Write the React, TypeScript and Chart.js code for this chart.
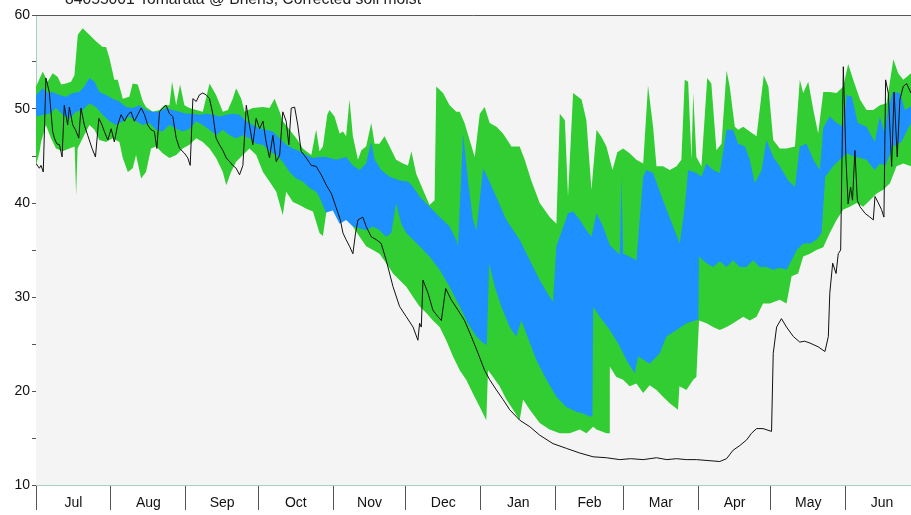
import { useEffect, useRef } from 'react';
import { Chart, registerables } from 'chart.js';

Chart.register(...registerables);

const titleText = '84055001 Tomarata @ Briens, Corrected soil moist';
const monthNames = ['Jul', 'Aug', 'Sep', 'Oct', 'Nov', 'Dec', 'Jan', 'Feb', 'Mar', 'Apr', 'May', 'Jun'];
const monthStartDays = [0, 31, 62, 92, 123, 153, 184, 215, 243, 274, 304, 335, 365];
const yTickValues = [10, 15, 20, 25, 30, 35, 40, 45, 50, 55, 60];

// Upper edge of the outer (green) band
const greenUpperDays = [0, 2.8, 4.8, 6.9, 9.0, 10.4, 12.4, 14.5, 15.9, 17.3, 19.3, 22.1, 24.8, 27.6, 29.0, 30.4, 32.4, 33.8, 35.9, 38.6, 40.0, 42.1, 44.2, 45.5, 48.3, 51.1, 53.1, 55.2, 56.3, 58.0, 59.6, 61.4, 63.5, 66.3, 69.0, 71.8, 74.5, 77.3, 79.4, 81.4, 82.8, 84.9, 86.3, 89.7, 93.9, 96.6, 98.7, 100.8, 102.1, 104.9, 107.7, 110.4, 111.8, 113.9, 115.9, 117.3, 118.7, 120.5, 121.4, 123.5, 125.6, 127.0, 128.3, 129.7, 131.1, 133.2, 134.6, 136.6, 138.7, 140.1, 142.1, 144.2, 146.3, 149.0, 151.8, 153.9, 155.3, 157.3, 160.1, 162.8, 164.9, 165.6, 168.4, 171.1, 173.9, 175.3, 177.3, 179.4, 181.5, 183.6, 185.6, 187.7, 190.5, 193.2, 196.7, 200.1, 202.2, 204.9, 208.4, 212.5, 215.3, 216.7, 218.8, 220.1, 222.2, 225.7, 227.7, 229.8, 231.9, 234.0, 236.0, 238.5, 240.5, 242.9, 245.6, 248.4, 251.2, 253.2, 255.3, 256.7, 259.4, 262.2, 265.0, 267.0, 268.4, 269.8, 271.2, 271.9, 273.2, 275.3, 277.7, 279.4, 281.5, 283.6, 285.7, 287.0, 289.1, 290.5, 292.6, 295.3, 298.1, 301.1, 303.0, 305.0, 307.7, 310.5, 314.0, 316.0, 317.4, 319.5, 321.6, 323.6, 325.7, 328.4, 331.2, 334.0, 336.0, 338.1, 340.9, 343.6, 346.4, 349.1, 351.9, 354.7, 356.7, 358.8, 362];
const greenUpperVals = [52.4, 54.0, 52.9, 53.8, 53.4, 52.6, 52.7, 52.9, 53.6, 57.9, 58.6, 57.9, 57.2, 56.6, 56.6, 55.4, 53.1, 53.1, 51.1, 51.3, 52.7, 52.6, 50.8, 50.2, 49.7, 49.9, 50.4, 50.4, 52.9, 50.4, 52.6, 50.4, 50.1, 49.9, 49.7, 52.7, 51.5, 49.7, 49.9, 51.1, 52.2, 51.1, 49.7, 50.1, 50.2, 50.1, 51.1, 49.7, 48.7, 47.8, 46.9, 45.8, 45.5, 45.1, 47.8, 45.5, 46.0, 49.4, 49.9, 49.2, 47.4, 47.6, 47.1, 51.0, 47.1, 44.6, 45.6, 46.0, 48.5, 46.3, 46.3, 47.1, 46.0, 44.6, 44.2, 44.0, 45.5, 43.1, 41.4, 39.8, 40.3, 52.4, 51.7, 50.4, 49.7, 49.7, 48.5, 46.7, 44.9, 49.5, 50.2, 48.5, 48.1, 47.4, 46.0, 46.0, 44.6, 42.4, 40.0, 38.5, 37.8, 49.5, 48.8, 40.7, 51.7, 51.0, 48.8, 41.4, 47.8, 47.0, 46.0, 43.5, 45.4, 45.8, 45.3, 44.6, 44.2, 52.5, 48.1, 43.9, 43.9, 43.5, 43.9, 44.6, 53.1, 52.9, 44.6, 51.7, 44.9, 43.9, 53.3, 52.7, 45.6, 46.3, 54.1, 52.4, 48.1, 47.8, 48.1, 47.6, 47.1, 53.6, 52.4, 46.7, 45.8, 45.8, 46.0, 53.1, 51.7, 52.9, 49.9, 47.4, 51.8, 51.8, 51.7, 52.4, 54.8, 53.1, 51.0, 49.9, 49.9, 50.4, 50.6, 55.3, 53.8, 53.1, 53.8];

// Upper edge of the inner (blue) band
const blueUpperDays = [0, 2.8, 4.8, 6.9, 9.7, 12.4, 15.2, 17.9, 20.0, 22.1, 24.2, 26.2, 29.0, 31.7, 34.5, 37.3, 40.0, 42.8, 45.5, 48.3, 51.1, 53.8, 56.6, 59.4, 62.1, 64.9, 67.6, 70.4, 73.2, 75.9, 78.7, 81.4, 84.2, 87.0, 89.7, 92.5, 95.2, 98.0, 100.8, 103.5, 106.3, 109.0, 111.8, 114.6, 117.3, 120.1, 124.2, 128.3, 131.1, 133.9, 136.6, 138.7, 140.1, 142.8, 146.3, 150.4, 153.9, 156.0, 158.7, 162.8, 167.0, 171.1, 173.9, 174.6, 176.7, 178.7, 180.8, 182.2, 185.0, 189.1, 194.6, 200.1, 204.3, 208.4, 212.5, 213.9, 215.3, 216.7, 220.1, 222.2, 225.0, 227.7, 229.8, 231.9, 234.6, 237.4, 241.5, 242.2, 242.9, 245.6, 248.4, 251.2, 252.5, 255.3, 259.4, 263.6, 266.3, 268.4, 269.8, 273.2, 275.3, 277.4, 280.1, 282.9, 285.7, 288.4, 290.5, 293.3, 295.3, 297.4, 300.2, 302.2, 305.0, 307.7, 311.2, 314.0, 316.0, 318.8, 321.6, 324.3, 325.7, 328.4, 331.2, 334.0, 335.4, 337.5, 340.0, 343.6, 347.0, 349.1, 351.0, 352.6, 354.5, 357.4, 359.5, 362];
const blueUpperVals = [51.5, 52.2, 51.7, 51.8, 51.5, 51.3, 51.7, 51.8, 52.4, 53.3, 52.9, 51.8, 51.5, 51.1, 50.8, 50.2, 50.1, 50.4, 49.9, 49.7, 49.7, 50.1, 49.9, 49.7, 49.5, 49.5, 49.4, 49.5, 49.4, 49.2, 49.4, 49.5, 49.4, 48.7, 48.3, 47.9, 47.8, 47.6, 46.9, 46.2, 45.8, 45.5, 45.1, 44.8, 44.9, 44.9, 44.6, 44.9, 44.0, 43.5, 44.2, 46.5, 44.6, 43.5, 42.8, 42.4, 42.3, 41.7, 40.7, 39.6, 38.5, 37.5, 36.1, 35.4, 47.4, 42.4, 38.2, 37.1, 43.7, 41.4, 38.2, 36.1, 33.9, 31.8, 30.0, 29.5, 35.4, 36.4, 38.9, 39.1, 38.2, 37.1, 36.4, 38.9, 37.5, 35.5, 34.5, 42.8, 34.6, 34.3, 33.9, 42.8, 43.5, 43.2, 40.3, 37.5, 35.7, 39.6, 43.5, 43.2, 42.8, 44.2, 43.5, 43.2, 47.8, 47.8, 46.3, 46.0, 44.6, 42.1, 43.5, 46.7, 44.9, 43.9, 42.4, 41.7, 46.0, 46.3, 44.6, 43.5, 48.0, 49.2, 48.5, 48.1, 51.5, 51.3, 48.5, 48.1, 46.5, 49.2, 47.5, 50.2, 51.8, 51.7, 49.9, 50.3];

// Lower edge of the inner (blue) band
const blueLowerDays = [0, 2.8, 5.5, 8.3, 11.0, 13.8, 16.6, 19.3, 22.1, 24.8, 27.6, 30.4, 33.1, 35.9, 38.6, 41.4, 44.2, 46.9, 49.7, 52.4, 55.2, 58.0, 60.7, 63.5, 66.3, 69.0, 71.8, 74.5, 77.3, 80.1, 82.8, 85.6, 88.3, 91.1, 93.9, 96.6, 99.4, 102.1, 104.9, 107.7, 110.4, 113.2, 115.9, 117.3, 120.1, 122.8, 125.6, 128.3, 131.1, 133.9, 136.6, 139.4, 142.1, 144.9, 147.0, 149.0, 151.1, 153.2, 156.0, 158.7, 162.8, 167.0, 171.1, 175.3, 178.7, 182.2, 185.0, 186.5, 187.5, 189.8, 192.5, 196.0, 198.7, 200.8, 202.9, 207.0, 211.2, 215.3, 219.4, 223.6, 226.3, 229.1, 230.2, 230.5, 233.2, 237.4, 241.0, 244.5, 247.7, 249.1, 253.9, 258.0, 260.8, 265.0, 269.1, 274.0, 274.3, 277.4, 280.1, 282.9, 285.7, 288.4, 291.1, 293.9, 296.7, 299.4, 302.2, 305.0, 307.7, 310.5, 312.6, 314.7, 317.4, 320.2, 322.9, 325.0, 326.5, 330.0, 335.4, 338.0, 343.6, 347.0, 349.1, 351.5, 354.5, 358.0, 362];
const blueLowerVals = [49.2, 49.4, 49.5, 50.1, 49.4, 49.0, 49.7, 49.9, 50.6, 50.2, 49.4, 48.7, 48.3, 48.7, 49.2, 48.7, 48.3, 48.5, 47.8, 47.6, 48.3, 47.9, 47.6, 47.9, 48.7, 48.3, 47.8, 47.2, 47.8, 47.2, 46.9, 47.2, 46.9, 46.3, 46.2, 45.5, 45.1, 44.4, 43.3, 42.6, 42.3, 41.6, 41.2, 40.6, 38.9, 37.8, 37.5, 37.8, 37.5, 37.3, 37.1, 37.5, 37.1, 36.4, 36.8, 40.0, 37.8, 36.8, 36.1, 35.4, 34.3, 32.9, 31.1, 29.0, 27.2, 25.8, 25.1, 24.9, 33.6, 31.1, 29.0, 26.8, 25.8, 27.5, 26.1, 23.3, 21.2, 19.4, 18.3, 17.8, 17.6, 17.3, 17.3, 29.0, 27.9, 26.5, 25.0, 23.2, 21.9, 23.7, 22.9, 24.0, 25.8, 26.5, 27.2, 27.6, 34.3, 33.6, 33.2, 33.8, 33.2, 33.9, 33.2, 33.2, 33.9, 33.2, 33.2, 32.9, 33.1, 32.9, 33.9, 35.0, 35.7, 35.7, 36.1, 36.8, 42.8, 44.0, 45.3, 45.0, 44.6, 43.5, 44.2, 44.0, 46.0, 46.5, 48.5];

// Lower edge of the outer (green) band
const greenLowerDays = [0, 1.5, 2.1, 4.1, 6.2, 8.3, 11.0, 13.8, 16.0, 16.6, 17.2, 19.3, 22.1, 24.2, 26.2, 29.0, 31.7, 34.5, 35.9, 38.0, 40.0, 41.4, 43.5, 45.5, 47.6, 49.7, 52.4, 55.2, 58.0, 60.7, 63.5, 66.3, 69.0, 71.8, 74.5, 77.3, 78.7, 80.7, 82.8, 85.6, 88.3, 91.1, 93.9, 96.6, 99.4, 102.1, 103.5, 106.3, 109.0, 111.8, 114.6, 117.3, 118.7, 120.1, 122.8, 125.6, 128.3, 131.1, 133.9, 136.6, 139.4, 142.1, 144.9, 147.7, 150.4, 153.2, 156.0, 158.7, 161.5, 164.2, 167.0, 169.7, 172.5, 175.3, 178.0, 180.8, 183.6, 186.3, 187.0, 189.1, 191.8, 194.6, 197.4, 200.1, 201.5, 204.3, 208.4, 212.5, 216.7, 220.8, 225.0, 227.7, 230.5, 231.9, 236.0, 237.2, 237.4, 240.1, 242.9, 245.6, 248.4, 251.2, 253.9, 256.7, 259.4, 262.2, 265.6, 266.2, 269.1, 271.9, 273.2, 274.3, 277.4, 280.1, 282.9, 285.7, 288.4, 292.6, 295.3, 298.1, 300.8, 303.6, 307.7, 310.5, 312.6, 315.3, 317.4, 320.2, 322.9, 325.7, 328.4, 331.2, 334.0, 336.7, 339.5, 342.2, 345.0, 347.8, 350.5, 353.3, 356.0, 358.8, 362];
const greenLowerVals = [44.0, 45.5, 46.5, 48.3, 46.9, 45.8, 45.5, 45.8, 46.0, 40.8, 45.8, 46.9, 48.3, 47.8, 46.7, 46.5, 46.9, 46.5, 44.8, 43.3, 43.7, 45.1, 42.6, 43.3, 45.8, 46.0, 45.3, 44.8, 45.1, 45.8, 46.2, 46.9, 46.5, 45.8, 44.8, 43.3, 41.9, 43.3, 44.4, 45.1, 45.8, 45.1, 43.3, 42.3, 41.2, 38.7, 41.2, 40.1, 39.8, 39.4, 39.1, 36.8, 36.5, 39.0, 39.2, 37.8, 38.2, 37.5, 36.4, 35.4, 35.0, 34.6, 33.6, 32.5, 31.8, 31.1, 30.0, 29.0, 28.3, 27.5, 26.8, 25.4, 23.7, 22.2, 21.2, 19.7, 18.3, 16.9, 22.2, 21.5, 20.5, 19.1, 18.0, 16.9, 19.1, 18.0, 16.6, 15.9, 15.5, 15.5, 15.9, 15.5, 16.2, 15.9, 15.5, 15.5, 22.6, 21.5, 21.2, 20.5, 20.8, 19.8, 20.6, 20.1, 19.4, 18.7, 18.0, 20.5, 20.1, 21.2, 21.5, 27.5, 27.2, 26.8, 26.5, 26.8, 27.2, 27.9, 27.5, 27.9, 29.3, 29.3, 29.7, 29.3, 32.2, 32.5, 34.3, 34.6, 35.0, 35.3, 36.8, 38.2, 39.3, 39.6, 40.0, 39.6, 40.3, 41.0, 41.4, 42.1, 43.9, 44.2, 43.9];

// Observed (black) series
const observedDays = [0, 1.4, 2.1, 3.0, 4.1, 5.5, 6.9, 7.6, 8.6, 9.7, 10.8, 11.7, 13.1, 13.8, 15.2, 16.3, 17.7, 18.6, 20.0, 21.4, 23.2, 24.6, 26.0, 27.3, 28.3, 29.7, 31.1, 32.4, 33.8, 35.2, 36.6, 38.0, 39.3, 40.7, 42.1, 43.5, 44.9, 46.2, 47.6, 49.0, 50.0, 51.1, 52.4, 53.8, 55.2, 56.6, 58.0, 59.4, 61.4, 62.8, 63.8, 64.9, 66.3, 67.6, 69.0, 70.4, 71.8, 73.2, 74.5, 75.9, 77.3, 78.7, 80.1, 81.4, 82.8, 84.2, 85.6, 87.0, 88.3, 89.7, 91.1, 92.5, 93.9, 95.2, 96.6, 98.0, 99.4, 100.8, 102.1, 103.5, 104.6, 105.6, 107.0, 108.3, 109.7, 111.8, 113.9, 115.9, 118.0, 120.1, 122.2, 124.2, 125.9, 127.0, 128.3, 129.7, 131.1, 132.2, 133.2, 135.2, 136.6, 138.7, 140.8, 142.8, 144.9, 147.7, 150.4, 153.2, 156.0, 158.0, 158.7, 159.4, 160.1, 162.2, 164.2, 166.3, 167.7, 169.5, 171.8, 174.6, 177.3, 180.1, 182.9, 185.6, 187.7, 190.5, 193.2, 196.0, 200.1, 204.3, 208.4, 213.9, 219.4, 225.0, 230.5, 236.0, 241.5, 246.0, 251.2, 256.7, 261.0, 265.0, 269.0, 273.2, 278.0, 282.9, 285.7, 288.4, 291.2, 294.0, 296.0, 298.1, 300.8, 304.3, 305.0, 306.4, 308.4, 310.5, 313.3, 316.0, 318.0, 320.2, 323.6, 326.4, 327.8, 328.4, 329.6, 331.0, 331.9, 332.9, 334.0, 335.1, 336.0, 337.0, 337.8, 338.8, 339.8, 340.9, 343.0, 345.0, 346.4, 347.1, 348.5, 349.8, 350.8, 351.5, 352.6, 354.0, 355.0, 356.3, 357.4, 358.8, 360.2, 362];
const observedVals = [44.2, 43.7, 44.0, 43.3, 53.3, 51.8, 47.6, 46.9, 46.3, 46.2, 44.9, 50.4, 48.3, 50.2, 48.3, 47.8, 46.9, 50.1, 48.3, 47.2, 45.8, 44.9, 49.0, 48.3, 47.6, 46.7, 47.9, 46.5, 48.3, 49.4, 48.7, 49.4, 49.7, 48.7, 49.4, 50.1, 49.4, 48.3, 47.8, 47.6, 45.8, 49.7, 50.1, 50.4, 49.5, 49.2, 46.9, 45.8, 45.3, 44.8, 44.0, 51.1, 50.8, 51.5, 51.7, 51.5, 51.1, 49.4, 46.9, 46.2, 45.6, 44.8, 44.4, 44.0, 43.7, 43.0, 44.0, 50.4, 48.3, 46.2, 49.0, 47.9, 48.7, 46.5, 44.8, 47.2, 44.4, 45.1, 49.7, 48.7, 46.2, 50.1, 50.2, 48.3, 45.5, 44.8, 44.0, 43.9, 43.0, 41.9, 41.0, 39.5, 38.2, 36.8, 36.1, 35.4, 34.6, 36.8, 38.2, 38.5, 37.5, 36.4, 36.1, 35.7, 33.9, 31.1, 29.0, 27.9, 26.8, 25.4, 27.2, 26.8, 31.8, 30.4, 28.6, 27.9, 27.5, 30.9, 29.7, 28.6, 27.5, 25.8, 24.0, 22.2, 21.2, 20.1, 19.1, 18.0, 16.9, 16.2, 15.3, 14.4, 13.9, 13.4, 13.0, 12.9, 12.7, 12.8, 12.7, 12.9, 12.7, 12.8, 12.7, 12.7, 12.6, 12.5, 12.8, 13.7, 14.2, 14.8, 15.5, 16.0, 16.0, 15.7, 24.0, 26.8, 27.7, 26.8, 25.8, 25.2, 25.3, 25.1, 24.7, 24.2, 25.8, 30.4, 33.6, 32.5, 34.6, 35.0, 54.5, 44.6, 39.9, 41.7, 40.3, 45.6, 40.3, 39.6, 38.9, 38.5, 38.2, 40.7, 40.0, 39.3, 38.5, 53.1, 51.7, 43.9, 51.8, 44.9, 51.0, 52.4, 52.7, 51.7];

const GREEN = '#32cd32';
const BLUE = '#1e90ff';
const PLOT_BG = '#f4f4f4';
const AXIS_TEAL = '#a6cfc6';
const FONT = '"Liberation Sans", Arial, sans-serif';

function toPoints(days: number[], vals: number[]) {
  return days.map((d, i) => ({ x: d, y: vals[i] }));
}

const decorPlugin = {
  id: 'decor',
  beforeDraw(chart: any) {
    const { ctx, chartArea: a } = chart;
    ctx.save();
    ctx.fillStyle = PLOT_BG;
    ctx.fillRect(a.left, a.top, a.right - a.left, a.bottom - a.top);
    ctx.restore();
  },
  afterDraw(chart: any) {
    const { ctx, chartArea: a } = chart;
    const xs = chart.scales.x;
    ctx.save();
    ctx.strokeStyle = '#555';
    ctx.lineWidth = 1;
    ctx.beginPath();
    ctx.moveTo(a.left, a.top + 0.5);
    ctx.lineTo(a.right, a.top + 0.5);
    ctx.stroke();

    ctx.fillStyle = '#111';
    ctx.font = `14px ${FONT}`;
    ctx.textAlign = 'center';
    ctx.textBaseline = 'middle';
    monthNames.forEach((name, i) => {
      const mid = (monthStartDays[i] + monthStartDays[i + 1]) / 2;
      ctx.fillText(name, xs.getPixelForValue(mid), a.bottom + 18);
    });

    ctx.fillStyle = '#222';
    ctx.font = `15.7px ${FONT}`;
    ctx.textAlign = 'left';
    ctx.textBaseline = 'alphabetic';
    ctx.fillText(titleText, 65, 4);
    ctx.restore();
  },
};

export default function App() {
  const ref = useRef<HTMLCanvasElement>(null);
  useEffect(() => {
    if (!ref.current) return;
    const band = (data: any, color: string, label: string) => ({
      label,
      data,
      borderColor: 'rgba(0,0,0,0)',
      borderWidth: 0,
      backgroundColor: color,
      pointRadius: 0,
      fill: 'start',
      tension: 0,
    });
    const chart = new Chart(ref.current, {
      type: 'line',
      data: {
        datasets: [
          {
            label: 'Observed',
            data: toPoints(observedDays, observedVals),
            borderColor: '#111',
            borderWidth: 1,
            pointRadius: 0,
            fill: false,
            tension: 0,
          },
          band(toPoints(greenLowerDays, greenLowerVals), PLOT_BG, 'Outer lower'),
          band(toPoints(blueLowerDays, blueLowerVals), GREEN, 'Inner lower'),
          band(toPoints(blueUpperDays, blueUpperVals), BLUE, 'Inner upper'),
          band(toPoints(greenUpperDays, greenUpperVals), GREEN, 'Outer upper'),
        ] as any,
      },
      options: {
        animation: false,
        responsive: false,
        maintainAspectRatio: false,
        layout: { padding: { top: 15, left: 0, right: 0, bottom: 0 } },
        plugins: {
          legend: { display: false },
          tooltip: { enabled: false },
          title: { display: false },
        },
        scales: {
          x: {
            type: 'linear',
            min: 0,
            max: 362,
            afterBuildTicks: (s: any) => {
              s.ticks = monthStartDays.slice(0, 12).map((v) => ({ value: v }));
            },
            afterFit: (s: any) => {
              s.height = 30;
            },
            ticks: { callback: () => '', autoSkip: false, maxRotation: 0 },
            grid: { drawOnChartArea: false, drawTicks: true, tickLength: 25, color: '#555', tickColor: '#555' },
            border: { color: AXIS_TEAL, width: 1 },
          },
          y: {
            type: 'linear',
            min: 10,
            max: 60,
            afterBuildTicks: (s: any) => {
              s.ticks = yTickValues.map((v) => ({ value: v }));
            },
            afterFit: (s: any) => {
              s.width = 36;
            },
            ticks: {
              autoSkip: false,
              padding: 2,
              color: '#111',
              font: { family: FONT, size: 14 },
              callback: (v: any) => (Number(v) % 10 === 0 ? String(v) : ''),
            },
            grid: { drawOnChartArea: false, drawTicks: true, tickLength: 4, color: '#555', tickColor: '#555' },
            border: { color: AXIS_TEAL, width: 1 },
          },
        },
      } as any,
      plugins: [decorPlugin],
    });
    return () => chart.destroy();
  }, []);
  return (
    <div style={{ position: 'fixed', left: 0, top: 0, width: 911, height: 515, background: '#fff', overflow: 'hidden' }}>
      <canvas ref={ref} width={911} height={515} style={{ display: 'block' }} />
    </div>
  );
}
